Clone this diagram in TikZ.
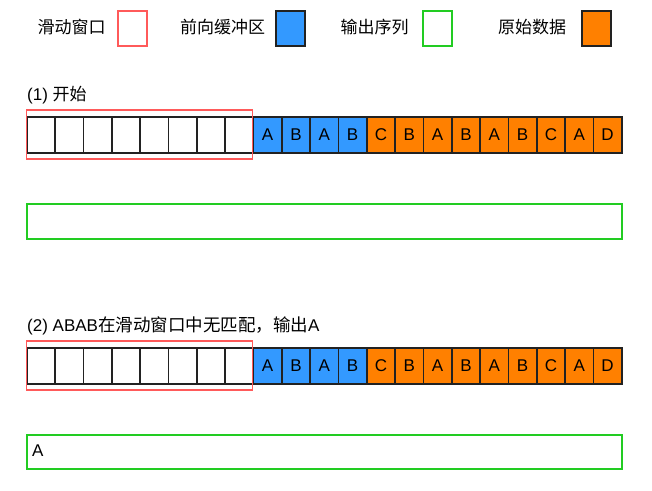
\documentclass[tikz,border=0pt]{standalone}
\usepackage{fontspec}
\setmainfont{Liberation Sans}
\newfontfamily\cjk{Noto Sans CJK SC}
\definecolor{winred}{HTML}{FF5A5A}
\definecolor{bufblue}{HTML}{3399FF}
\definecolor{raworange}{HTML}{FF8000}
\definecolor{outgreen}{HTML}{22CC22}
\definecolor{cellline}{HTML}{222222}
\begin{document}
\begin{tikzpicture}[x=1pt,y=-1pt,font=\fontsize{17}{20}\selectfont,
  cell/.style={draw=cellline,line width=1.6pt,minimum width=28.33pt,minimum height=36pt,inner sep=0pt,anchor=north west},
  window/.style={draw=winred,line width=1.5pt,minimum width=226pt,minimum height=49pt,inner sep=0pt,anchor=north west},
  outbox/.style={draw=outgreen,line width=1.5pt,minimum width=595pt,inner sep=0pt,anchor=north west},
  legbox/.style={line width=1.6pt,minimum width=29pt,minimum height=35pt,inner sep=0pt,anchor=north west},
  legtext/.style={inner sep=0pt,font=\fontsize{17}{20}\selectfont\cjk},
  label/.style={inner sep=0pt,anchor=west}]
\useasboundingbox[fill=white] (0,0) rectangle (652,490);
% legend
\node[legtext] (t1) at (71.5,27) {滑动窗口};
\node[legbox,draw=winred] (k1) at (117,10) {};
\node[legtext] (t2) at (222.5,27) {前向缓冲区};
\node[legbox,draw=cellline,fill=bufblue] (k2) at (275,10) {};
\node[legtext] (t3) at (374.5,27) {输出序列};
\node[legbox,draw=outgreen] (k3) at (422,10) {};
\node[legtext] (t4) at (532,27) {原始数据};
\node[legbox,draw=cellline,fill=raworange] (k4) at (581,10) {};
% rows
\foreach \r/\ty in {1/116,2/347}{
  \foreach \i in {0,...,7}
    \node[cell,fill=white] (r\r c\i) at ({26+\i*28.333},\ty) {};
  \foreach \l [count=\i from 8] in {A,B,A,B}
    \node[cell,fill=bufblue] (r\r c\i) at ({26+\i*28.333},\ty) {\l};
  \foreach \l [count=\i from 12] in {C,B,A,B,A,B,C,A,D}
    \node[cell,fill=raworange] (r\r c\i) at ({26+\i*28.333},\ty) {\l};
}
\node[window] (win1) at (25.7,109) {};
\node[window] (win2) at (25.7,340) {};
\node[outbox,minimum height=35pt] (out1) at (26,203) {};
\node[outbox,minimum height=34pt] (out2) at (26,434) {};
\node[label] (o2) at (32,451) {A};
\node[label] (l1) at (27,95) {(1) {\cjk 开始}};
\node[label] (l2) at (27,326) {(2) ABAB{\fontsize{17.5}{20}\selectfont\cjk 在滑动窗口中无匹配，输出}A};
\end{tikzpicture}
\end{document}
